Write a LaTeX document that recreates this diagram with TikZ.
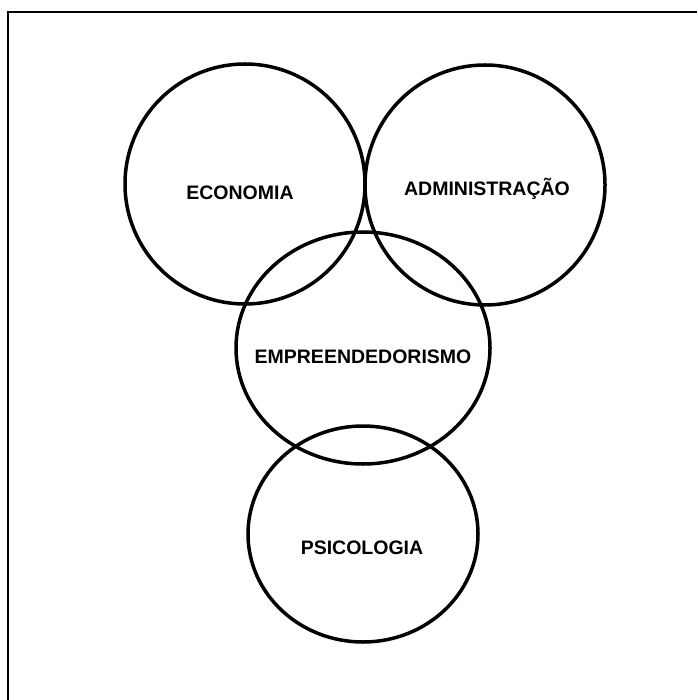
\documentclass[tikz,border=0pt]{standalone}
\usepackage{fontspec}
\setmainfont{Liberation Sans}
\begin{document}
\begin{tikzpicture}[x=1pt,y=-1pt,
  lbl/.style={font=\fontsize{19.5}{22}\selectfont\bfseries,inner sep=0pt},
  ring/.style={line width=3.5pt},
  frame/.style={draw=black,line width=1.6pt}]
\useasboundingbox (0,0) rectangle (697,700);
\fill[white] (0,0) rectangle (697,700);
\coordinate (fbl) at (8,700);
\coordinate (ftl) at (8,12);
\coordinate (ftr) at (697,12);
\draw[frame] (fbl) -- (ftl) -- (ftr);
\draw[ring] (245,184) ellipse [x radius=120, y radius=120];
\draw[ring] (485,185) ellipse [x radius=120, y radius=120];
\draw[ring] (363,348) ellipse [x radius=127, y radius=116];
\draw[ring] (363,534) ellipse [x radius=115, y radius=108];
\node[lbl] (eco) at (240,193) {ECONOMIA};
\node[lbl] (adm) at (487,189) {ADMINISTRAÇÃO};
\node[lbl] (emp) at (363,357) {EMPREENDEDORISMO};
\node[lbl] (psi) at (362,548) {PSICOLOGIA};
\end{tikzpicture}
\end{document}
